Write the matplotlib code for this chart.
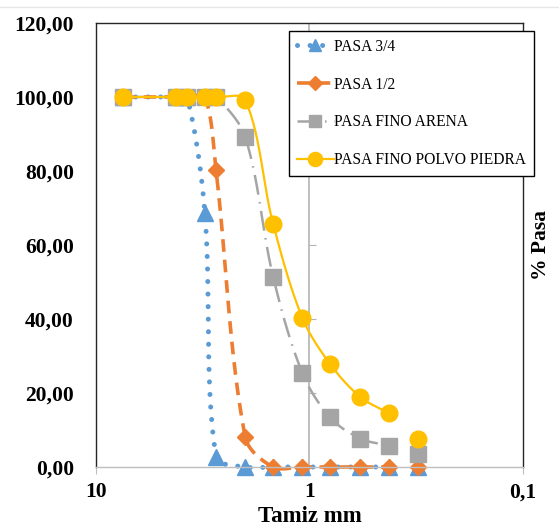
import numpy as np
import matplotlib
matplotlib.use("Agg")
import matplotlib.pyplot as plt
from matplotlib.ticker import FuncFormatter, FixedLocator, NullLocator, NullFormatter
from matplotlib.lines import Line2D

# sieve openings (mm) and % passing for each material
tamiz = [7.47, 4.22, 3.74, 3.09, 2.74, 2.0, 1.48, 1.08, 0.80, 0.58, 0.425, 0.31]
pasa_34 = [100, 100, 100, 68.6, 2.8, 0, 0, 0, 0, 0, 0, 0]
pasa_12 = [100, 100, 100, 100, 80.2, 8.1, 0, 0, 0, 0, 0, 0]
pasa_arena = [100, 100, 100, 100, 100, 89.2, 51.4, 25.4, 13.4, 7.7, 5.8, 3.4]
pasa_polvo = [100, 100, 100, 100, 100, 99.2, 65.7, 40.3, 27.8, 19.0, 14.5, 7.5]
labels = ["PASA 3/4", "PASA 1/2", "PASA FINO ARENA", "PASA FINO POLVO PIEDRA"]
y_ticks = [0, 20, 40, 60, 80, 100, 120]
x_ticks = [10, 1, 0.1]


def smooth(ax, x, y, n=30):
    # Excel-like smoothed line: bezier through the points, built in pixel space
    pts = ax.transData.transform(np.column_stack([x, y]))
    p = np.vstack([pts[:1], pts, pts[-1:]])
    t = np.linspace(0, 1, n)[:, None]
    out = []
    for i in range(1, len(p) - 2):
        p0, p1, p2, p3 = p[i - 1], p[i], p[i + 1], p[i + 2]
        d01 = np.hypot(*(p1 - p0))
        d12 = np.hypot(*(p2 - p1))
        d23 = np.hypot(*(p3 - p2))
        c1 = p1 + (p2 - p0) * d12 / (3 * (d01 + d12))
        c2 = p2 - (p3 - p1) * d12 / (3 * (d12 + d23))
        b = (1 - t) ** 3 * p1 + 3 * (1 - t) ** 2 * t * c1 + 3 * (1 - t) * t ** 2 * c2 + t ** 3 * p2
        out.append(b)
    out = ax.transData.inverted().transform(np.vstack(out))
    return out[:, 0], out[:, 1]


plt.rcParams['font.family'] = ['Liberation Serif', 'DejaVu Serif']

fig = plt.figure(figsize=(5.59, 5.29), dpi=100)
ax = fig.add_axes([0.1717, 0.1172, 0.7639, 0.8393])
ax.set_xscale("log")
ax.set_xlim(10, 0.1)
ax.set_ylim(0, 120)

# vertical axis line crossing at 1 mm
ax.plot([1, 1], [0, 120], color="#b4b4b4", linewidth=1.2, zorder=1.5)
sec = ax.secondary_yaxis(0.5)
sec.spines["right"].set_visible(False)
sec.spines["left"].set_visible(False)
sec.yaxis.set_major_locator(FixedLocator(y_ticks))
sec.yaxis.set_major_formatter(NullFormatter())
sec.tick_params(axis="y", direction="out", length=5, color="#b4b4b4")

series = [
    (pasa_34, "#5b9bd5", dict(linestyle=(0, (0.01, 2.5)), linewidth=3.6, dash_capstyle="round"), "^", 11),
    (pasa_12, "#ed7d31", dict(linestyle=(0, (3.5, 2.2)), linewidth=2.6), "D", 8.5),
    (pasa_arena, "#a5a5a5", dict(linestyle=(0, (8, 3, 0.6, 3)), linewidth=1.8), "s", 11),
    (pasa_polvo, "#ffc000", dict(linestyle="-", linewidth=1.6), "o", 12),
]

handles = []
for vals, color, style, marker, ms in series:
    # last sieve is not joined to the curve in the original
    sx, sy = smooth(ax, tamiz[:-1], vals[:-1])
    ax.plot(sx, sy, color=color, clip_on=False, zorder=2, **style)
    ax.plot(tamiz, vals, linestyle="none", marker=marker, markersize=ms,
            color=color, markeredgecolor=color, clip_on=False, zorder=2)
    handles.append(Line2D([], [], color=color, marker=marker, markersize=ms * 0.85,
                          markeredgecolor=color, **style))

ax.xaxis.set_major_locator(FixedLocator(x_ticks))
ax.xaxis.set_minor_locator(NullLocator())
ax.yaxis.set_major_locator(FixedLocator(y_ticks))
ax.xaxis.set_major_formatter(FuncFormatter(lambda v, p: ("%g" % v).replace(".", ",")))
ax.yaxis.set_major_formatter(FuncFormatter(lambda v, p: ("%.2f" % v).replace(".", ",")))

ax.tick_params(axis="y", length=0, pad=16, labelsize=15.5)
ax.tick_params(axis="x", length=5, color="#bfbfbf", pad=6, labelsize=15.5)
for lab in ax.get_xticklabels() + ax.get_yticklabels():
    lab.set_fontweight("bold")

for side in ["left", "top", "right"]:
    ax.spines[side].set_color("#262626")
    ax.spines[side].set_linewidth(1.0)
ax.spines["bottom"].set_color("#bfbfbf")
ax.spines["bottom"].set_linewidth(1.0)

ax.set_xlabel("Tamiz mm", fontsize=16.5, fontweight="bold", labelpad=3)
ax.yaxis.set_label_position("right")
ax.set_ylabel("% Pasa", fontsize=15.5, fontweight="bold", labelpad=6)

leg = ax.legend(handles, labels, loc="upper left", bbox_to_anchor=(0.452, 0.982),
                borderaxespad=0, fontsize=11.2, frameon=True, fancybox=False,
                edgecolor="black", handlelength=2.4, labelspacing=1.4,
                handletextpad=0.0, borderpad=0.5, framealpha=1)
leg.get_frame().set_linewidth(1.0)
leg.set_zorder(5)

fig.add_artist(Line2D([0, 1], [0.987, 0.987], transform=fig.transFigure,
                      color="#e6e6e6", linewidth=1))

fig.savefig("out.png", dpi=100)
